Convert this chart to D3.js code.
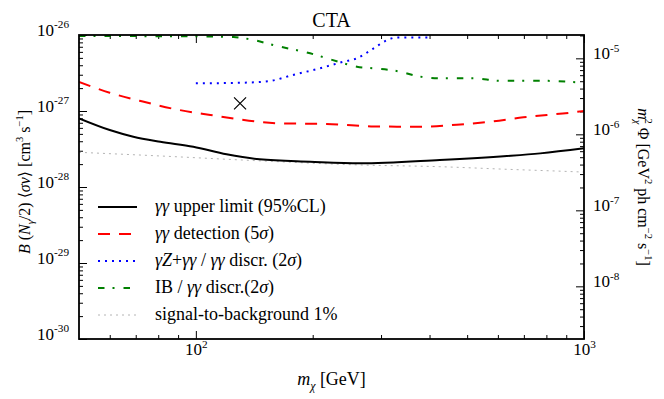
<!DOCTYPE html>
<html>
<head>
<meta charset="utf-8">
<script src="https://cdn.jsdelivr.net/npm/d3@7"></script>
<style>
  body { margin: 0; background: #fff; }
  text { font-family: "Liberation Serif", "DejaVu Serif", serif; fill: #000; }
</style>
</head>
<body>
<svg id="chart" width="664" height="399"></svg>
<script>
// --- data (mass in GeV, B<sigma v> in cm^3/s) ---
var ulMass = [50, 60, 69, 81, 98.5, 120, 146, 197, 265, 425, 633, 771, 1000];
var ulVal  = [8.0e-28, 5.62e-28, 4.59e-28, 3.94e-28, 3.39e-28, 2.69e-28, 2.31e-28, 2.15e-28, 2.05e-28, 2.27e-28, 2.56e-28, 2.77e-28, 3.23e-28];

var detMass = [50, 60, 73, 89, 109, 133, 162, 217, 265, 287, 385, 470, 573, 698, 921, 1000];
var detVal  = [2.41e-27, 1.74e-27, 1.33e-27, 1.05e-27, 8.86e-28, 7.61e-28, 6.89e-28, 6.75e-28, 6.4e-28, 6.25e-28, 6.22e-28, 6.6e-28, 7.23e-28, 8.26e-28, 9.5e-28, 1.0e-27];

var gzMass = [100, 133, 155, 178, 209, 240, 260, 287, 310, 330, 400];
var gzVal  = [2.31e-27, 2.36e-27, 2.48e-27, 2.98e-27, 3.65e-27, 4.45e-27, 4.93e-27, 6.68e-27, 8.5e-27, 9.3e-27, 9.3e-27];

var ibMass = [50, 100, 125, 138, 162, 197, 240, 260, 287, 336, 371, 425, 519, 608, 771, 959, 1000];
var ibVal  = [9.7e-27, 9.6e-27, 9.4e-27, 8.78e-27, 7.16e-27, 5.74e-27, 4.25e-27, 3.83e-27, 3.65e-27, 3.29e-27, 2.89e-27, 2.69e-27, 2.69e-27, 2.5e-27, 2.5e-27, 2.39e-27, 2.36e-27];

var sbMass = [50, 81, 133, 265, 425, 633, 941, 1000];
var sbVal  = [2.86e-28, 2.56e-28, 2.26e-28, 1.95e-28, 1.85e-28, 1.71e-28, 1.59e-28, 1.57e-28];

var crossPoint = [130, 1.26e-27];

var leftTicks  = [1e-30, 1e-29, 1e-28, 1e-27, 1e-26];
var rightTicks = [1e-8, 1e-7, 1e-6, 1e-5];
var bottomTicks = [100, 1000];

var legendLabels = [
  [["γγ", "i"], [" upper limit (95%CL)"]],
  [["γγ", "i"], [" detection (5"], ["σ", "i"], [")"]],
  [["γZ", "i"], ["+"], ["γγ", "i"], [" / "], ["γγ", "i"], [" discr. (2"], ["σ", "i"], [")"]],
  [["IB / "], ["γγ", "i"], [" discr.(2"], ["σ", "i"], [")"]],
  [["signal-to-background 1%"]]
];

// --- layout ---
var L = 79, R = 584, T = 35, B = 339;
var svg = d3.select('#chart');

var x = d3.scaleLog().domain([50, 1000]).range([L, R]);
var y = d3.scaleLog().domain([1e-30, 1e-26]).range([B, T]);
var y2 = d3.scaleLog().domain([Math.pow(10, -8.693), Math.pow(10, -4.693)]).range([B, T]);

function minors(lo, hi) {
  var out = [];
  for (var e = lo; e <= hi; e++)
    for (var k = 2; k <= 9; k++) out.push(k * Math.pow(10, e));
  return out;
}

// rich text helper: parts = [[text, flags, dx]], flags: i italic, ^ sup, _ sub
function rich(t, parts, size) {
  var shift = 0;
  parts.forEach(function (p) {
    var f = p[1] || '', s = 0, fs = size;
    if (f.indexOf('^') >= 0) { s = -0.42 * size; fs = size * 0.66; }
    if (f.indexOf('_') >= 0) { s = 0.25 * size; fs = size * 0.66; }
    var ts = t.append('tspan').text(p[0]).attr('font-size', fs).attr('dy', s - shift);
    if (p[2]) ts.attr('dx', p[2]);
    if (f.indexOf('i') >= 0) ts.attr('font-style', 'italic');
    shift = s;
  });
}

function powLabels(g, size) {
  g.selectAll('.tick text').each(function (d) {
    var e = Math.round(Math.log10(d));
    var t = d3.select(this).text(null);
    rich(t, [['10'], [String(e), '^']], size);
  });
}

var fs = 17;

// clip
svg.append('clipPath').attr('id', 'clip').append('rect')
  .attr('x', L).attr('y', T).attr('width', R - L).attr('height', B - T);

// --- axes ---
var gl = svg.append('g').attr('transform', 'translate(' + L + ',0)')
  .call(d3.axisLeft(y).tickValues(leftTicks).tickSize(-8).tickPadding(10));
gl.attr('font-family', null).attr('font-size', fs);
powLabels(gl, fs);
svg.append('g').attr('transform', 'translate(' + L + ',0)')
  .call(d3.axisLeft(y).tickValues(minors(-30, -27)).tickSize(-4).tickFormat(''));

var gr = svg.append('g').attr('transform', 'translate(' + R + ',0)')
  .call(d3.axisRight(y2).tickValues(rightTicks).tickSize(-8).tickPadding(9));
gr.attr('font-family', null).attr('font-size', fs);
powLabels(gr, fs);
svg.append('g').attr('transform', 'translate(' + R + ',0)')
  .call(d3.axisRight(y2).tickValues(minors(-9, -5).filter(function (v) { return v > y2.domain()[0] && v < y2.domain()[1]; }))
    .tickSize(-4).tickFormat(''));

var gb = svg.append('g').attr('transform', 'translate(0,' + B + ')')
  .call(d3.axisBottom(x).tickValues(bottomTicks).tickSize(-8).tickPadding(16));
gb.attr('font-family', null).attr('font-size', fs);
powLabels(gb, fs);
var xMinor = minors(1, 2).filter(function (v) { return v > 50 && v < 1000; });
svg.append('g').attr('transform', 'translate(0,' + B + ')')
  .call(d3.axisBottom(x).tickValues(xMinor).tickSize(-4).tickFormat(''));
svg.append('g').attr('transform', 'translate(0,' + T + ')')
  .call(d3.axisTop(x).tickValues(bottomTicks).tickSize(-8).tickFormat(''));
svg.append('g').attr('transform', 'translate(0,' + T + ')')
  .call(d3.axisTop(x).tickValues(xMinor).tickSize(-4).tickFormat(''));

svg.selectAll('.domain').remove();
svg.selectAll('.tick line').attr('stroke', '#000').attr('stroke-width', 1);

// --- curves ---
var line = d3.line().x(function (d) { return x(d[0]); }).y(function (d) { return y(d[1]); })
  .curve(d3.curveMonotoneX);

var series = [
  { m: sbMass, v: sbVal, color: '#b4b4b4', w: 1, dash: '2,4' },
  { m: ibMass, v: ibVal, color: '#008000', w: 2, dash: '6.5,8,2,9' },
  { m: gzMass, v: gzVal, color: '#0000ff', w: 2, dash: '2,5' },
  { m: detMass, v: detVal, color: '#ff0000', w: 2, dash: '12,9' },
  { m: ulMass, v: ulVal, color: '#000000', w: 2, dash: null }
];

var plot = svg.append('g').attr('clip-path', 'url(#clip)');
series.forEach(function (s) {
  plot.append('path')
    .datum(d3.zip(s.m, s.v))
    .attr('d', line)
    .attr('fill', 'none')
    .attr('stroke', s.color)
    .attr('stroke-width', s.w)
    .attr('stroke-dasharray', s.dash);
});

// cross marker
var cx = x(crossPoint[0]), cy = y(crossPoint[1]);
plot.append('path')
  .attr('d', 'M' + (cx - 6) + ',' + (cy - 6) + 'L' + (cx + 6) + ',' + (cy + 6) +
             'M' + (cx - 6) + ',' + (cy + 6) + 'L' + (cx + 6) + ',' + (cy - 6))
  .attr('stroke', '#000').attr('stroke-width', 1.2).attr('fill', 'none');

// frame
svg.append('rect').attr('x', L).attr('y', T).attr('width', R - L).attr('height', B - T)
  .attr('fill', 'none').attr('stroke', '#000').attr('stroke-width', 1.8);

// --- legend ---
var legStyles = [series[4], series[3], series[2], series[1], series[0]];
var lg = svg.append('g');
legendLabels.forEach(function (lab, i) {
  var ly = 207 + i * 27;
  var s = legStyles[i];
  lg.append('line').attr('x1', 98).attr('x2', 137).attr('y1', ly).attr('y2', ly)
    .attr('stroke', s.color).attr('stroke-width', s.w).attr('stroke-dasharray', s.dash);
  var t = lg.append('text').attr('x', 155).attr('y', ly + 5).attr('font-size', 18);
  rich(t, lab, 18);
});

// --- titles ---
svg.append('text').attr('x', (L + R) / 2).attr('y', 27).attr('text-anchor', 'middle')
  .attr('font-size', 20).text('CTA');

var xl = svg.append('text').attr('x', (L + R) / 2).attr('y', 385).attr('text-anchor', 'middle');
rich(xl, [['m', 'i'], ['χ', 'i_'], [' [GeV]']], 18);

var yl = svg.append('text').attr('transform', 'translate(30,182) rotate(-90)')
  .attr('text-anchor', 'middle');
rich(yl, [['B', 'i'], [' ('], ['N', 'i'], ['γ', 'i_'], ['/2) ⟨'], ['σv', 'i'], ['⟩ [cm'], ['3', '^'], [' s'], ['−1', '^'], [']']], 16);

var yr = svg.append('text').attr('transform', 'translate(638,' + (T + B) / 2 + ') rotate(90)')
  .attr('text-anchor', 'middle');
rich(yr, [['m', 'i'], ['χ', 'i_'], ['2', '^', -6], ['  Φ  [GeV'], ['2', '^'], [' ph cm'], ['−2', '^'], [' s'], ['−1', '^'], [']']], 16);
</script>
</body>
</html>
